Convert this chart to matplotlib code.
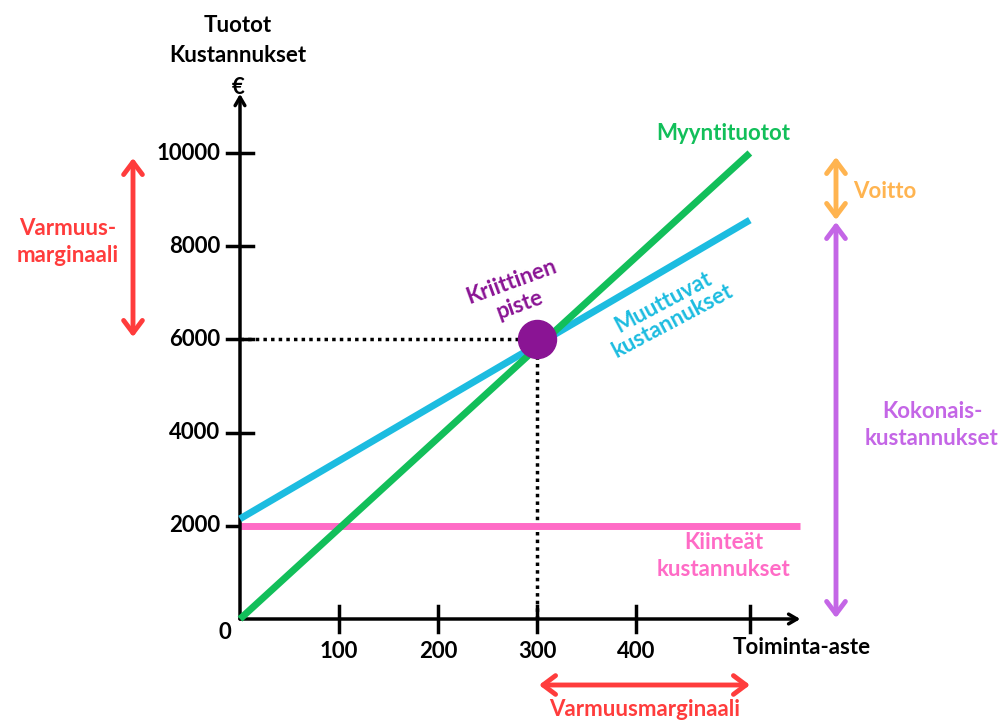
import numpy as np
import matplotlib.pyplot as plt
from matplotlib.patches import FancyArrowPatch

plt.rcParams['font.family'] = ['Lato', 'DejaVu Sans']
plt.rcParams['font.weight'] = 'bold'

# Data
x_ticks = [100, 200, 300, 400]
y_ticks = [2000, 4000, 6000, 8000, 10000]
sales_x = [0, 515]
sales_y = [0, 10000]
total_x = [0, 515]
total_y = [2150, 8560]
fixed_x = [0, 566]
fixed_y = [2000, 2000]
break_even = (300, 6000)
x_end_tick = 515

GREEN = '#12BF5A'
CYAN = '#1CBCE0'
PINK = '#FF6BC6'
PURPLE = '#8A1494'
RED = '#FF3C3C'
ORANGE = '#FFB450'
LAVENDER = '#C466E6'
FS = 16

W, H = 998, 720
fig = plt.figure(figsize=(W / 100, H / 100), dpi=100)
# origin at pixel (240, 619); 0.99 px per unit on x, 0.0466 px per unit on y
ax = fig.add_axes([240 / W, 101 / H, 594 / W, 512.6 / H])
ax.set_xlim(0, 600)
ax.set_ylim(0, 11000)
ax.axis('off')


def fp(x, y):
    # pixel (from top-left) -> figure fraction
    return x / W, 1 - y / H


# axes with arrows
for end in [(0, 11270), (566, 0)]:
    ax.annotate('', xy=end, xytext=(0, 0), xycoords='data',
                arrowprops=dict(arrowstyle='->,head_length=0.6,head_width=0.35', lw=2.5,
                                color='black', shrinkA=0, shrinkB=0),
                annotation_clip=False)

# ticks
for yv in y_ticks:
    ax.plot([-13, 13], [yv, yv], color='black', lw=2.5, clip_on=False, zorder=1)
    ax.text(-20, yv, str(yv), ha='right', va='center', fontsize=FS, fontweight='bold')
for xv in x_ticks + [x_end_tick]:
    ax.plot([xv, xv], [-280, 280], color='black', lw=2.5, clip_on=False, zorder=1)
for xv in x_ticks:
    ax.text(xv, -700, str(xv), ha='center', va='center', fontsize=FS, fontweight='bold')
ax.text(-15, -300, '0', ha='center', va='center', fontsize=FS, fontweight='bold')

# lines
ax.plot(fixed_x, fixed_y, color=PINK, lw=5, solid_capstyle='butt', clip_on=False, zorder=2)
ax.plot(total_x, total_y, color=CYAN, lw=5, solid_capstyle='butt', clip_on=False, zorder=3)
ax.plot(sales_x, sales_y, color=GREEN, lw=5, solid_capstyle='butt', clip_on=False, zorder=4)

bx, by = break_even
ax.plot([0, bx], [by, by], color='black', lw=2.5, ls=(0, (1, 1.2)), zorder=1)
ax.plot([bx, bx], [0, by], color='black', lw=2.5, ls=(0, (1, 1.2)), zorder=1)
ax.scatter([bx], [by], s=750, color=PURPLE, zorder=6)

# axis titles
fig.text(*fp(238, 25), 'Tuotot', ha='center', va='center', fontsize=FS, fontweight='bold')
fig.text(*fp(238, 56), 'Kustannukset', ha='center', va='center', fontsize=FS, fontweight='bold')
fig.text(*fp(238, 87), '€', ha='center', va='center', fontsize=FS, fontweight='bold')
fig.text(*fp(802, 647), 'Toiminta-aste', ha='center', va='center', fontsize=FS, fontweight='bold')

# line labels
fig.text(*fp(723, 133), 'Myyntituotot', ha='center', va='center', fontsize=FS,
         fontweight='bold', color=GREEN)
fig.text(*fp(516, 293), 'Kriittinen\npiste', ha='center', va='center', fontsize=FS,
         fontweight='bold', color=PURPLE, rotation=20, linespacing=1.2)
fig.text(*fp(668, 312), 'Muuttuvat\nkustannukset', ha='center', va='center', fontsize=FS,
         fontweight='bold', color=CYAN, rotation=28, linespacing=1.0)
fig.text(*fp(724, 556), 'Kiinteät\nkustannukset', ha='center', va='center', fontsize=FS,
         fontweight='bold', color=PINK, linespacing=1.3)


def dbl_arrow(p1, p2, color):
    fig.add_artist(FancyArrowPatch(
        posA=fp(*p1), posB=fp(*p2), transform=fig.transFigure,
        arrowstyle='<->,head_length=0.6,head_width=0.45', mutation_scale=15,
        lw=3.5, color=color, shrinkA=0, shrinkB=0,
        capstyle='round', joinstyle='round'))


dbl_arrow((133, 158), (133, 337), RED)
fig.text(*fp(68, 242), 'Varmuus-\nmarginaali', ha='center', va='center', fontsize=FS,
         fontweight='bold', color=RED, linespacing=1.3)

dbl_arrow((836, 157), (836, 220), ORANGE)
fig.text(*fp(885, 191), 'Voitto', ha='center', va='center', fontsize=FS,
         fontweight='bold', color=ORANGE)

dbl_arrow((836, 222), (836, 618), LAVENDER)
fig.text(*fp(932, 425), 'Kokonais-\nkustannukset', ha='center', va='center', fontsize=FS,
         fontweight='bold', color=LAVENDER, linespacing=1.3)

dbl_arrow((539, 685), (750, 685), RED)
fig.text(*fp(645, 709), 'Varmuusmarginaali', ha='center', va='center', fontsize=FS,
         fontweight='bold', color=RED)

fig.savefig('out.png', dpi=100, facecolor='white')
